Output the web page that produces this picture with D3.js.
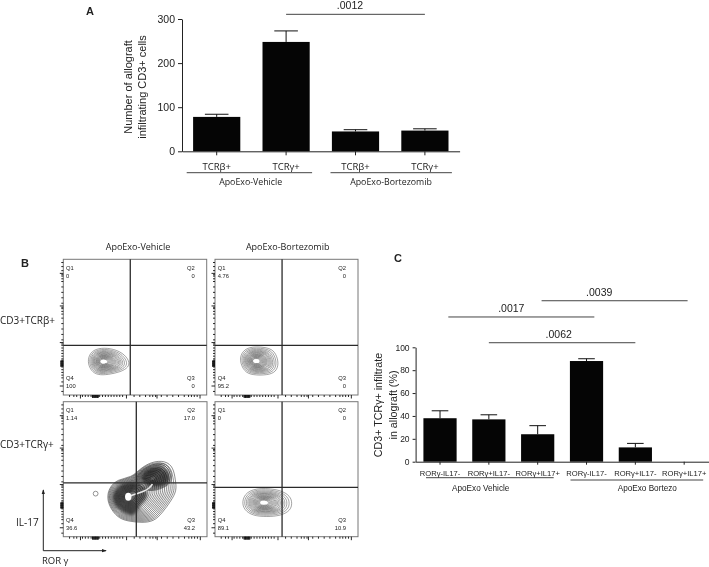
<!DOCTYPE html>
<html>
<head>
<meta charset="utf-8">
<script src="https://cdn.jsdelivr.net/npm/d3@7"></script>
<style>
html, body { margin:0; padding:0; background:#fff; }
svg { display:block; filter:blur(0.35px); }
text { fill:#222; }
</style>
</head>
<body>
<svg></svg>
<script>
// panel A
var aCategories = ["TCRβ+","TCRγ+","TCRβ+","TCRγ+"]
var aValues = [78,248,45,47]
var aErrors = [84,273,49,51]
var aTicks = [0,100,200,300]
// from index, to index, level, label, label index
var aBrackets = [[1,3,310.6,".0012",1.92]]
var aGroups = [[0,1,"ApoExo-Vehicle"],[2,3,"ApoExo-Bortezomib"]]

// panel C
var cCategories = ["RORγ-IL17-","RORγ+IL17-","RORγ+IL17+","RORγ-IL17-","RORγ+IL17-","RORγ+IL17+"]
var cValues = [38,37,24,88,12.5,0]
var cErrors = [44.5,41,31.5,90,16,0]
var cTicks = [0,20,40,60,80,100]
var cBrackets = [[0.17,3.16,126.5,".0017",1.46],[2.08,5.07,140.7,".0039",3.26],[1,4,104,".0062",2.43]]
var cGroups = [[0,2,"ApoExo Vehicle"],[3,5,"ApoExo Bortezo"]]

// panel B, everything in channel units 0-100
var qValues = [["0","0","0","100"],["4.76","0","0","95.2"],["1.14","17.0","43.2","36.6"],["0","0","10.9","89.1"]]
var xGates = [46.7,46.9,50.8,46.9]
var yGates = [36.6,36.6,39.8,36.6]
var flowMajorY = [7,39,66,90]
var flowMinorY = [3,10,13,15,17,19,21,22,23,24,25,26,27,29,31,33,35,37,38,41,45,49,53,57,60,62,64,65,68,72,76,80,84,86,88,89,92,95,98]
var flowClusterY = [21.5,22,22.5,23,23.5,24,24.5,25,25.5]
var flowMajorX = [11.6,43.7,65,95]
var flowMinorX = [4,7,9,13,15,17,19,20,21,22,23,24,25,27,29,31,33,35,37,39,41,49,53,57,60,62,64,68,72,76,80,84,87,89,91,93]
var flowClusterX = [20,20.5,21,21.5,22,22.5,23,23.5,24]

var outline1 = [[16.8,24.6],[18.6,31.2],[24,34.6],[33,34.6],[41.5,31.2],[46.2,25.1],[45.6,20.4],[40,17],[31.4,15],[24,14.6],[19.2,17.8]]
var outline2 = [[16.9,25.8],[19.2,32.5],[25.2,36],[39,35],[42.8,30],[44.6,23.4],[42.8,17],[36.6,14.6],[26.4,14.6],[20.4,17]]
var outline3 = [[30.3,28.4],[31.9,36.4],[37.8,42.6],[47.6,43.9],[53,50],[61.2,55.6],[71,56.4],[76.6,51.4],[78,42],[79,34.2],[75,26.6],[69,17.8],[63,11.2],[54.6,10.4],[47.2,11.2],[39,13],[33,20.4]]
var lobe3 = [[50,44],[55,49.5],[62,54],[70,55],[75,50],[76,41],[70,36],[60,33],[52,37]]
var shade3 = [[33.7,29.6],[37.2,37.5],[45.2,40.8],[53.4,39.5],[59.2,33.3],[58,27.2],[52.2,22.2],[49.9,14.8],[42.9,17.3],[36,22.2]]
var shadeLobe3 = [[53.4,45.7],[61.5,51.9],[70.8,51.9],[74.3,44.4],[73.1,38.3],[63.8,37],[55.7,38.3]]
var outline4 = [[18.8,25.9],[21.6,33.2],[31.5,36.5],[46,34.7],[52.8,30],[54,24.7],[52.8,19.4],[46,15.5],[36.2,14.7],[26.4,15.5],[20.4,19.8]]
var peaks = [[27.9,24.6],[28.7,25],[45.2,29.6],[33.8,25.2]]
var lobePeak = [62,43]
var ridge3 = [[45.2,29.6],[51,32],[56,33.5],[60,36],[62,39]]
var outlier3 = [22.5,31.9]
var ringLevels = [1,.93,.86,.79,.72,.65,.58,.51,.44,.37,.3,.23,.16]
var sparseLevels = [1,.91,.83,.76,.7,.65,.6,.55,.5,.46,.42,.38,.34,.3,.26,.22,.18]
var denseLevels = [1,.96,.92,.88,.84,.8,.76,.72,.68,.64,.6,.56,.52,.48,.44,.4,.36,.32,.28,.24,.2,.16]

var screen = {width:709, height:567}
var sansFont = "'Liberation Sans', Arial, sans-serif"
var labelFont = "'Open Sans', 'Noto Sans', sans-serif"

var svg = d3.select("svg")
    .attr("width",screen.width)
    .attr("height",screen.height)

// the two bar charts share everything but their layout
var drawBars = function(o)
{
    var x = d3.scaleBand()
        .domain(d3.range(o.categories.length))
        .range([o.left,o.right])
        .paddingInner(0.32)
        .paddingOuter(0.16)
    var y = d3.scaleLinear()
        .domain(o.domain)
        .range([o.bottom,o.top])
    var g = svg.append("g")

    g.selectAll(".bar")
    .data(o.values)
    .enter()
    .append("rect")
    .attr("x",function(d,i){ return x(i) })
    .attr("y",function(d){ return y(d) })
    .attr("width",x.bandwidth())
    .attr("height",function(d){ return y(0)-y(d) })
    .attr("fill","#050505")

    var err = g.selectAll(".err")
    .data(o.errors)
    .enter()
    .append("g")
    .attr("transform",function(d,i){ return "translate("+(x(i)+x.bandwidth()/2)+",0)" })
    .attr("stroke","#111")
    .attr("stroke-width",1)
    .attr("stroke-opacity",function(d){ return d>0 ? 1 : 0 })
    err.append("line")
    .attr("y1",function(d,i){ return y(o.values[i]) })
    .attr("y2",function(d){ return y(d) })
    err.append("line")
    .attr("x1",-x.bandwidth()/4)
    .attr("x2",x.bandwidth()/4)
    .attr("y1",function(d){ return y(d) })
    .attr("y2",function(d){ return y(d) })

    var yAxis = g.append("g")
    .attr("transform","translate("+o.left+",0)")
    .call(d3.axisLeft(y).tickValues(o.ticks).tickSize(o.tick).tickSizeOuter(0))
    yAxis.selectAll("text").attr("font-family",sansFont).attr("font-size",o.tickFont).attr("fill","#222")

    var xAxis = g.append("g")
    .attr("transform","translate(0,"+o.bottom+")")
    .call(d3.axisBottom(x).tickSize(o.tick).tickSizeOuter(0).tickFormat(function(i){ return o.categories[i] }))
    xAxis.selectAll("text")
    .attr("font-family",o.catFont)
    .attr("font-size",o.catSize)
    .attr("y",o.catY)
    .attr("dy",0)
    .attr("fill","#222")
    g.selectAll(".domain").attr("stroke","#222").attr("stroke-width",1)
    g.selectAll(".tick line").attr("stroke","#222")

    var center = function(i){ return x(0)+x.bandwidth()/2+i*x.step() }

    o.brackets.forEach(function(b){
        g.append("line")
        .attr("x1",center(b[0]))
        .attr("x2",center(b[1]))
        .attr("y1",y(b[2]))
        .attr("y2",y(b[2]))
        .attr("stroke","#444")
        g.append("text")
        .attr("x",center(b[4]))
        .attr("y",y(b[2])-5)
        .attr("text-anchor","middle")
        .attr("font-family",sansFont)
        .attr("font-size",o.bracketFont)
        .text(b[3])
    })

    o.groups.forEach(function(b,i){
        g.append("line")
        .attr("x1",center(b[0])-o.groupPad[i][0])
        .attr("x2",center(b[1])+o.groupPad[i][1])
        .attr("y1",o.groupLine[i])
        .attr("y2",o.groupLine[i])
        .attr("stroke","#444")
        g.append("text")
        .attr("x",o.groupTextX[i])
        .attr("y",o.groupText)
        .attr("text-anchor","middle")
        .attr("font-family",o.catFont)
        .attr("font-size",o.groupSize)
        .text(b[2])
    })

    o.yLabel.forEach(function(t,i){
        g.append("text")
        .attr("transform","translate("+o.yLabelX[i]+","+o.yLabelY+") rotate(-90)")
        .attr("text-anchor","middle")
        .attr("font-family",sansFont)
        .attr("font-size",o.yLabelSize)
        .text(t)
    })
}

drawBars({
    categories:aCategories, values:aValues, errors:aErrors, ticks:aTicks, brackets:aBrackets, groups:aGroups,
    domain:[0,300], left:182, right:459.6, top:19, bottom:151.3, tick:4, tickFont:10.5,
    catFont:labelFont, catSize:9.5, catY:19, bracketFont:10.5,
    groupPad:[[30,26],[25,27]], groupLine:[172.7,172.7], groupTextX:[250.7,391], groupText:185, groupSize:8.8,
    yLabel:["Number of allograft","infiltrating CD3+ cells"], yLabelX:[132,146], yLabelY:87, yLabelSize:11
})

drawBars({
    categories:cCategories, values:cValues, errors:cErrors, ticks:cTicks, brackets:cBrackets, groups:cGroups,
    domain:[0,100], left:415.6, right:708.6, top:347.3, bottom:461.7, tick:3, tickFont:8.5,
    catFont:sansFont, catSize:7.6, catY:14, bracketFont:10.5,
    groupPad:[[14,16],[16,19]], groupLine:[477.7,480], groupTextX:[480.7,647.3], groupText:491, groupSize:8.2,
    yLabel:["CD3+ TCRγ+ infiltrate","in allograft (%)"], yLabelX:[382,397], yLabelY:405, yLabelSize:10.7
})

// flow panels
var panels = [
    {left:63.3, right:206.7, top:259.3, bottom:395, qTop:269.7, qBottom:380, rings:[[outline1,sparseLevels,0]], core:[3,1.8]},
    {left:215, right:358, top:259.3, bottom:395, qTop:269.7, qBottom:380, rings:[[outline2,sparseLevels,1]], core:[3,1.8]},
    {left:63.3, right:207, top:401.7, bottom:536.7, qTop:411.7, qBottom:521.7, rings:[[outline3,denseLevels,2],[lobe3,ringLevels,-1]], core:[3.2,4]},
    {left:215, right:358, top:401.7, bottom:536.7, qTop:411.7, qBottom:521.7, rings:[[outline4,sparseLevels,3]], core:[2.5,1.6]}
]

panels.forEach(function(p,n)
{
    var x = d3.scaleLinear().domain([0,100]).range([p.left,p.right])
    var y = d3.scaleLinear().domain([0,100]).range([p.bottom,p.top])
    var g = svg.append("g")

    var ring = d3.line()
        .x(function(d){ return x(d[0]) })
        .y(function(d){ return y(d[1]) })
        .curve(d3.curveBasisClosed)

    p.rings.forEach(function(r){
        var peak = r[2]<0 ? lobePeak : peaks[r[2]]
        g.selectAll(null)
        .data(r[1])
        .enter()
        .append("path")
        .attr("d",function(t){
            return ring(r[0].map(function(q){
                return [peak[0]+t*(q[0]-peak[0]),peak[1]+t*(q[1]-peak[1])]
            }))
        })
        .attr("fill","none")
        .attr("stroke",n==2 ? "#2a2a2a" : "#555")
        .attr("stroke-width",.6)
        .attr("stroke-opacity",.9)
    })

    if(n==2)
    {
        g.selectAll(null)
        .data([shade3,shadeLobe3])
        .enter()
        .append("path")
        .attr("d",ring)
        .attr("fill","#111")
        .attr("fill-opacity",.65)
        .style("filter","blur(1.5px)")
        g.append("path")
        .attr("d",d3.line().x(function(d){ return x(d[0]) }).y(function(d){ return y(d[1]) }).curve(d3.curveBasis)(ridge3))
        .attr("fill","none")
        .attr("stroke","#e8e8e8")
        .attr("stroke-width",1.6)
        g.append("circle")
        .attr("cx",x(outlier3[0]))
        .attr("cy",y(outlier3[1]))
        .attr("r",2.4)
        .attr("fill","#fff")
        .attr("stroke","#666")
        .attr("stroke-width",.7)
    }

    g.append("ellipse")
    .attr("cx",x(peaks[n][0]))
    .attr("cy",y(peaks[n][1]))
    .attr("rx",p.core[0])
    .attr("ry",p.core[1])
    .attr("fill","#fff")

    g.append("rect")
    .attr("x",p.left)
    .attr("y",p.top)
    .attr("width",p.right-p.left)
    .attr("height",p.bottom-p.top)
    .attr("fill","none")
    .attr("stroke","#777")

    g.append("line")
    .attr("x1",x(xGates[n])).attr("x2",x(xGates[n]))
    .attr("y1",p.top).attr("y2",p.bottom)
    .attr("stroke","#2a2a2a").attr("stroke-width",1.3)
    g.append("line")
    .attr("x1",p.left).attr("x2",p.right)
    .attr("y1",y(yGates[n])).attr("y2",y(yGates[n]))
    .attr("stroke","#2a2a2a").attr("stroke-width",1.3)

    // log style ticks, minor then major, then the heavy bunch near the low end
    var axes = [
        [d3.axisLeft(y),flowMinorY,2,"translate("+p.left+",0)"],
        [d3.axisLeft(y),flowMajorY,3.5,"translate("+p.left+",0)"],
        [d3.axisLeft(y),flowClusterY,3,"translate("+p.left+",0)"],
        [d3.axisBottom(x),flowMinorX,2,"translate(0,"+p.bottom+")"],
        [d3.axisBottom(x),flowMajorX,3.5,"translate(0,"+p.bottom+")"],
        [d3.axisBottom(x),flowClusterX,3,"translate(0,"+p.bottom+")"]
    ]
    axes.forEach(function(a){
        var t = g.append("g")
        .attr("transform",a[3])
        .call(a[0].tickValues(a[1]).tickSize(a[2]).tickFormat(""))
        t.select(".domain").remove()
        t.selectAll(".tick line").attr("stroke","#111").attr("stroke-width",.9)
    })

    // quadrant names and percentages
    var qText = [
        ["Q1",qValues[n][0],p.left+2.7,p.qTop,"start"],
        ["Q2",qValues[n][1],p.right-12,p.qTop,"end"],
        ["Q3",qValues[n][2],p.right-12,p.qBottom,"end"],
        ["Q4",qValues[n][3],p.left+2.7,p.qBottom,"start"]
    ]
    qText.forEach(function(q){
        g.append("text")
        .attr("x",q[2])
        .attr("y",q[3])
        .attr("text-anchor",q[4])
        .attr("font-family",sansFont)
        .attr("font-size",5.8)
        .attr("fill","#444")
        .text(q[0])
        g.append("text")
        .attr("x",q[2])
        .attr("y",q[3]+8)
        .attr("text-anchor",q[4])
        .attr("font-family",sansFont)
        .attr("font-size",5.8)
        .attr("fill","#444")
        .text(q[1])
    })
})

// loose labels
var addText = function(s,x,y,size,anchor,family,weight)
{
    svg.append("text")
    .attr("x",x)
    .attr("y",y)
    .attr("font-size",size)
    .attr("text-anchor",anchor || "start")
    .attr("font-family",family || labelFont)
    .attr("font-weight",weight || "normal")
    .text(s)
}
addText("A",86,15,11,"start",sansFont,"bold")
addText("B",21,267,11,"start",sansFont,"bold")
addText("C",394,262,11,"start",sansFont,"bold")
addText("ApoExo-Vehicle",138,250,9,"middle")
addText("ApoExo-Bortezomib",287.7,250,9,"middle")
addText("CD3+TCRβ+",0,324,10)
addText("CD3+TCRγ+",0,448,10)
addText("IL-17",16,526,10)
addText("ROR γ",42,564,9.5)

// gating arrows
var defs = svg.append("defs")
defs.append("marker")
.attr("id","tip")
.attr("viewBox","0 0 6 6")
.attr("refX",5).attr("refY",3)
.attr("markerWidth",5).attr("markerHeight",5)
.attr("orient","auto-start-reverse")
.append("path").attr("d","M0,1L6,3L0,5Z").attr("fill","#222")
svg.append("path")
.attr("d",d3.line()([[43.3,490],[43.3,550.7],[106,550.7]]))
.attr("fill","none")
.attr("stroke","#222")
.attr("marker-end","url(#tip)")
.attr("marker-start","url(#tip)")
</script>
</body>
</html>
